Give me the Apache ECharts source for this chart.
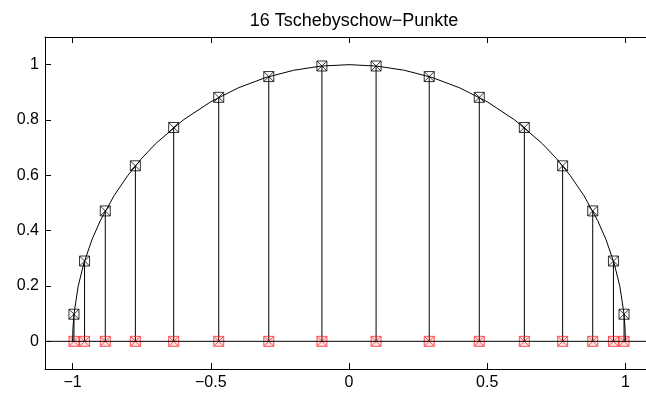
<!DOCTYPE html>
<html>
<head>
<meta charset="utf-8">
<script src="https://cdn.jsdelivr.net/npm/echarts@6/dist/echarts.min.js"></script>
<style>
  html, body { margin: 0; padding: 0; background: #fff; overflow: hidden; }
  #chart { width: 653px; height: 397px; }
</style>
</head>
<body>
<div id="chart"></div>
<script>
// 16 Tschebyschow-Punkte (x) und ihre Höhe auf dem Halbkreis (y)
const chebX = [-0.9952, -0.9569, -0.8819, -0.7730, -0.6344, -0.4714, -0.2903, -0.0980,
                0.0980,  0.2903,  0.4714,  0.6344,  0.7730,  0.8819,  0.9569,  0.9952];
const chebY = [0.0980, 0.2903, 0.4714, 0.6344, 0.7730, 0.8819, 0.9569, 0.9952,
               0.9952, 0.9569, 0.8819, 0.7730, 0.6344, 0.4714, 0.2903, 0.0980];

// Halbkreis
const circX = [-1, -0.999, -0.995, -0.98, -0.96, -0.93, -0.9, -0.85, -0.8, -0.75, -0.7, -0.6, -0.5, -0.4, -0.3, -0.2, -0.1, 0,
               0.1, 0.2, 0.3, 0.4, 0.5, 0.6, 0.7, 0.75, 0.8, 0.85, 0.9, 0.93, 0.96, 0.98, 0.995, 0.999, 1];
const circY = [0, 0.0447, 0.0999, 0.1990, 0.2800, 0.3676, 0.4359, 0.5268, 0.6, 0.6614, 0.7141, 0.8, 0.8660, 0.9165, 0.9539, 0.9798, 0.9950, 1,
               0.9950, 0.9798, 0.9539, 0.9165, 0.8660, 0.8, 0.7141, 0.6614, 0.6, 0.5268, 0.4359, 0.3676, 0.2800, 0.1990, 0.0999, 0.0447, 0];

// Achsenbeschriftung
const xTicks = [-1, -0.5, 0, 0.5, 1];
const yTicks = [0, 0.2, 0.4, 0.6, 0.8, 1];

const font = 'Liberation Sans, Arial, Helvetica, sans-serif';
const marker = 'path://M0,0H10V10H0ZM0,0L10,10M10,0L0,10';
const fmt = v => String(v).replace('-', '\u2212');

const chart = echarts.init(document.getElementById('chart'));

const axisCommon = {
  axisLine: { show: true, onZero: false, lineStyle: { color: '#000', width: 1 } },
  splitLine: { show: false }
};

chart.setOption({
  backgroundColor: '#fff',
  animation: false,
  title: {
    text: '16 Tschebyschow\u2212Punkte',
    left: 349, top: 7, textAlign: 'center',
    textStyle: { fontFamily: font, fontSize: 18, fontWeight: 'normal', color: '#000' }
  },
  grid: { left: 45, right: 0, top: 37, bottom: 28 },
  xAxis: [
    Object.assign({
      type: 'value', min: -1.1, max: 1.1, position: 'bottom',
      axisTick: { show: true, inside: true, length: 6, customValues: xTicks, lineStyle: { color: '#000' } },
      axisLabel: { customValues: xTicks, formatter: fmt, margin: 6, color: '#000', fontFamily: font, fontSize: 16 }
    }, axisCommon),
    Object.assign({
      type: 'value', min: -1.1, max: 1.1, position: 'top',
      axisTick: { show: true, inside: true, length: 6, customValues: xTicks, lineStyle: { color: '#000' } },
      axisLabel: { show: false }
    }, axisCommon)
  ],
  yAxis: [
    Object.assign({
      type: 'value', min: -0.1, max: 1.1, position: 'left',
      axisTick: { show: true, inside: true, length: 6, customValues: yTicks, lineStyle: { color: '#000' } },
      axisLabel: { customValues: yTicks, formatter: fmt, margin: 6, color: '#000', fontFamily: font, fontSize: 16 }
    }, axisCommon),
    Object.assign({
      type: 'value', min: -0.1, max: 1.1, position: 'right',
      axisTick: { show: true, inside: true, length: 6, customValues: yTicks, lineStyle: { color: '#000' } },
      axisLabel: { show: false }
    }, axisCommon)
  ],
  series: [
    {
      // Nulllinie
      type: 'line', data: [[-1.1, 0], [1.1, 0]], symbol: 'none',
      lineStyle: { color: '#000', width: 1 }, silent: true
    },
    {
      type: 'line', data: circX.map((x, i) => [x, circY[i]]), symbol: 'none',
      lineStyle: { color: '#000', width: 1 }, silent: true
    },
    {
      // Stiele
      type: 'custom', data: chebX.map((x, i) => [x, chebY[i]]),
      renderItem: (params, api) => {
        const p0 = api.coord([api.value(0), 0]);
        const p1 = api.coord([api.value(0), api.value(1)]);
        return { type: 'line', shape: { x1: p0[0], y1: p0[1], x2: p1[0], y2: p1[1] },
                 style: { stroke: '#000', lineWidth: 1 } };
      }
    },
    {
      type: 'scatter', data: chebX.map((x, i) => [x, chebY[i]]),
      symbol: marker, symbolSize: 10,
      itemStyle: { color: 'rgba(0,0,0,0)', borderColor: '#000', borderWidth: 1 }
    },
    {
      type: 'scatter', data: chebX.map(x => [x, 0]),
      symbol: marker, symbolSize: 10,
      itemStyle: { color: 'rgba(255,0,0,0.15)', borderColor: '#ff2a2a', borderWidth: 1 }
    }
  ]
});
</script>
</body>
</html>
